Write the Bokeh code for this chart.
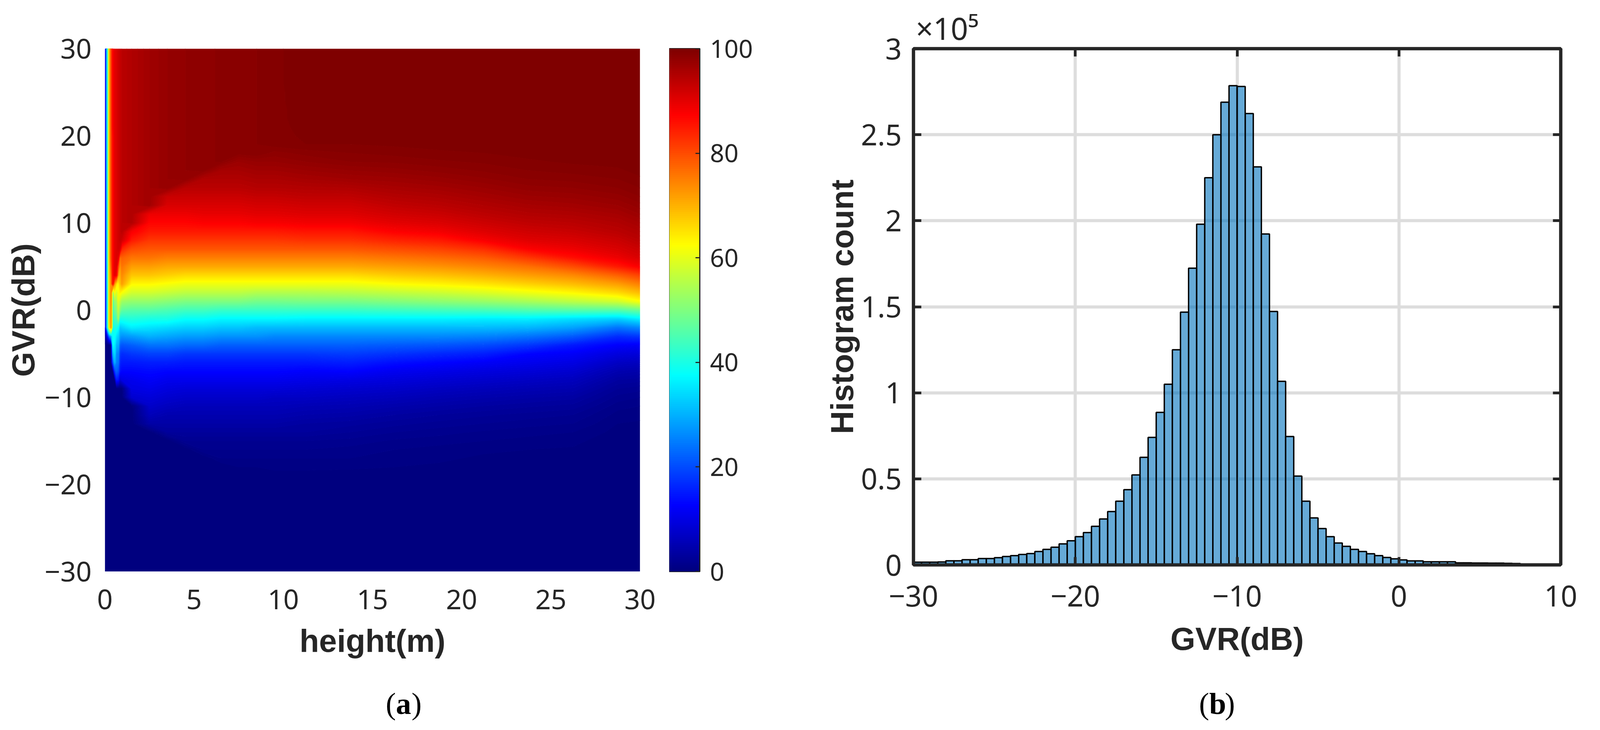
import numpy as np
from bokeh.embed import file_html
from bokeh.layouts import column, row
from bokeh.models import FixedTicker, Label, LinearAxis, LinearColorMapper, Range1d, Title
from bokeh.plotting import figure
from bokeh.resources import INLINE

# ---------- panel (b) histogram ----------
bin_edges = [-30 + 0.5 * i for i in range(76)]
hist_counts = [
    1600, 1600, 1600, 1700, 2400, 2400, 3000, 3000, 3700, 3700,
    4200, 4900, 5400, 6100, 6600, 7800, 9000, 10300, 12200, 14000,
    16400, 18800, 22400, 26700, 31000, 37000, 43700, 52300, 62500, 74100,
    88600, 105000, 125000, 146900, 172400, 198000, 225000, 250000, 268900, 278500,
    278000, 262300, 231300, 192300, 147300, 106700, 74600, 51600, 37000, 27300,
    21100, 16400, 12700, 10800, 9000, 7800, 6500, 5400, 4300, 3500,
    2900, 2300, 2300, 1800, 1800, 1800, 1800, 1200, 1200, 1100,
    1100, 1000, 1000, 900, 800,
]
hist_x_ticks = {-30: "\u221230", -20: "\u221220", -10: "\u221210", 0: "0", 10: "10"}
hist_y_ticks = {0: "0", 50000: "0.5", 100000: "1", 150000: "1.5", 200000: "2", 250000: "2.5", 300000: "3"}

# ---------- panel (a) heat map: values read per height column, GVR rows -30..30 in 1 dB steps ----------
gvr_rows = list(range(-30, 31))
h000 = [0]*27 + [4] + [11]*33
h005 = [0]*27 + [4] + [12]*33
h015 = [0]*27 + [12] + [38, 38, 38, 38, 38, 39, 39, 39] + [40]*25
h025 = [0]*27 + [25] + [64, 66, 66, 66, 66, 66, 67, 67] + [68]*25
h035 = [0]*27 + [30] + [72, 73, 73, 74, 74, 74, 75, 78] + [80]*25
h045 = [0]*24 + [20, 30, 38, 38, 38, 40, 42, 44, 50, 86] + [87]*17 + [88]*10
h055 = [0]*23 + [18, 30, 34, 36, 38, 40, 44, 48, 52, 62, 72, 90] + [90]*26
h065 = [0]*22 + [15, 22, 25, 26, 30, 35, 40, 45, 50, 53, 58, 65, 88] + [91]*26
h075 = [0]*22 + [14, 20, 24, 26, 30, 33, 38, 52, 56, 60, 62, 63, 72, 80, 90] + [92]*24
h085 = [0]*22 + [8, 14, 16, 18, 22, 28, 32, 40, 50, 56, 64, 68, 70, 72, 76, 91] + [93]*23
h095 = [0]*22 + [10, 13, 15, 17, 21, 27, 33, 40, 47, 53, 62, 72, 74, 76, 78, 84, 92] + [94]*22
h15 = [0]*20 + [8, 10, 11, 13, 15, 18, 22, 28, 36, 41, 46, 52, 58, 63, 68, 72, 76, 80, 85, 88] + [95]*21
h25 = [0]*17 + [4, 6, 7.5, 9, 10.5, 12, 13.5, 15.5, 19, 24, 30, 35, 40, 46, 52, 58, 63, 68, 72, 76, 79, 82, 85, 87, 89] + [96.5]*19
h35 = [0]*16 + [3, 4, 5, 6.5, 8, 9.5, 11, 13, 15.5, 19, 24, 29, 34, 40, 45, 51, 57, 62, 67, 71, 75, 79, 82, 85, 87, 89, 91, 92.5] + [97.5]*17
h45 = [0]*15 + [2, 3, 4, 5, 6, 7.5, 9, 11, 13, 15, 18, 23, 28, 33, 38, 44, 50, 56, 61, 66, 71, 75, 79, 82, 85, 87, 89, 91, 92.5, 94] + [98]*16
h55 = [0]*14 + [1.5, 2, 3, 4, 5, 6, 7.5, 9, 11, 13, 15, 18, 23, 28, 33, 38, 44, 50, 56, 61, 66, 71, 75, 79, 82, 85, 87.5, 89.5, 91, 92.5, 94, 95] + [98.3]*15
h65 = [0]*13 + [1, 1.5, 2, 3, 4, 5, 6, 7.5, 9, 11, 13, 15, 18, 22, 27, 32, 37, 43, 50, 56, 61, 66, 71, 75, 79, 82, 85, 87.5, 89.5, 91, 92.5, 94, 95, 96] + [98.6]*14
h75 = [0]*12 + [0.5, 1, 1.5, 2, 3, 4, 5, 6, 7.5, 9, 11, 13, 15, 18, 22, 27, 32, 37, 43, 50, 56, 61, 66, 71, 75, 79, 82, 85, 87.5, 89.5, 91, 92.5, 94, 95, 96, 97] + [98.8]*13
h85 = [0]*12 + [0.5, 1, 1.5, 2, 3, 4, 5, 6, 7.5, 9, 11, 13, 15, 18, 22, 27, 31, 37, 43, 49, 55, 61, 66, 71, 75, 79, 82, 85, 88, 90, 91.5, 93, 94.5, 95.5, 96.5, 97.5] + [99]*13
h95 = [0]*12 + [0.8, 1, 1.5, 2, 3, 4, 5, 6, 7, 9, 11, 13, 15, 18, 22, 26, 31, 37, 43, 49, 55, 61, 66, 71, 75, 79, 82, 85, 88, 90, 91.5, 93, 94.5, 95.5, 96.5, 97.5, 98.3] + [99.3]*12
h1125 = [0]*12 + [0.8, 1, 1.5, 2, 3, 3.5, 4.5, 5.5, 7, 8.5, 10.5, 12.5, 15, 18, 22, 26, 31, 36.5, 43, 49.5, 55, 61, 66, 71, 75, 79, 82.5, 85.5, 88.5, 90.5, 92, 93.5, 94.8, 96, 97, 98, 98.7, 99.5, 99.6, 99.7, 99.8, 99.8, 99.9, 99.9, 100, 100, 100, 100, 100]
h1375 = [0]*12 + [0.7, 1, 1.3, 1.8, 2.5, 3.2, 4.2, 5.2, 6.5, 8, 10, 12.8, 15.5, 18.5, 22, 26, 31, 36.5, 43, 49.5, 55.5, 61, 66, 71, 75, 79, 82.5, 85.5, 88.5, 90.5, 92, 93.5, 95, 96.5, 97.5, 98.5, 99, 99.5, 99.7, 99.8, 99.8, 99.9, 99.9, 100, 100, 100, 100, 100, 100]
h1625 = [0]*12 + [0.5, 0.7, 1, 1.4, 2, 2.7, 3.5, 4.6, 6, 7.5, 9.3, 11.3, 14, 17.5, 21.5, 26, 31, 36.5, 43.5, 50.5, 56.5, 62.5, 67.5, 72, 76, 80, 84, 87.5, 90, 91.8, 93.3, 94.6, 95.8, 96.8, 97.8, 98.6, 99.2, 99.6, 99.8] + [100]*10
h1875 = [0]*12 + [0.4, 0.6, 0.8, 1.2, 1.7, 2.3, 3, 4, 5.2, 6.7, 8.4, 10.5, 13, 16.5, 21, 26, 31, 36.5, 44, 51.5, 57.5, 63.5, 68.5, 73, 77, 81, 85, 88.5, 90.8, 92.5, 94, 95.2, 96.3, 97.3, 98.2, 98.9, 99.4, 99.7, 99.9] + [100]*10
h2125 = [0]*12 + [0.2, 0.4, 0.6, 1, 1.4, 2, 2.6, 3.5, 4.6, 6, 7.7, 9.6, 12, 15.5, 20, 25.5, 31, 36, 44.5, 52.5, 59, 65, 70, 74.5, 78.5, 83, 88, 90.5, 92.3, 93.8, 95, 96.1, 97, 97.9, 98.6, 99.1, 99.5, 99.8, 99.9] + [100]*10
h2375 = [0]*12 + [0.1, 0.3, 0.5, 0.8, 1.2, 1.7, 2.3, 3.1, 4.1, 5.4, 7, 8.9, 11, 13, 18, 24, 30.5, 36, 45.5, 54, 61, 67, 72, 76.5, 82, 87.5, 90.3, 92, 93.5, 94.8, 95.9, 96.9, 97.8, 98.5, 99, 99.4, 99.7, 99.9, 100] + [100]*10
h2625 = [0]*13 + [0.2, 0.4, 0.7, 1, 1.5, 2, 2.8, 3.7, 4.9, 6.3, 8, 10, 12, 15, 21.5, 28.5, 34.5, 46, 56, 63, 69, 74, 80, 86, 89, 91, 92.7, 94, 95.2, 96.3, 97.2, 98, 98.7, 99.2, 99.6, 99.8, 99.9, 100] + [100]*10
h2875 = [0]*16 + [0.3, 0.5, 0.8, 1.2, 1.8, 2.5, 3.5, 5, 7, 9.5, 12.5, 17, 24, 33, 46, 58, 66, 72, 78, 85, 89, 91, 92.5, 94, 95, 96, 97, 97.8, 98.5, 99, 99.4, 99.7, 100, 100, 100, 100, 100, 100, 100, 100, 100, 100, 100, 100, 100]
h3000 = [0]*16 + [0.2, 0.4, 0.7, 1, 1.5, 2.2, 3.2, 4.5, 6.5, 9, 12, 18, 26, 36, 48, 62, 69, 75, 81, 88, 91, 92.5, 94, 95, 96, 97, 97.8, 98.5, 99, 99.4, 99.7, 99.9, 100, 100, 100, 100, 100, 100, 100, 100, 100, 100, 100, 100, 100]

heights = [0, 0.05, 0.15, 0.25, 0.35, 0.45, 0.55, 0.65, 0.75, 0.85, 0.95,
           1.5, 2.5, 3.5, 4.5, 5.5, 6.5, 7.5, 8.5, 9.5,
           11.25, 13.75, 16.25, 18.75, 21.25, 23.75, 26.25, 28.75, 30]
columns = [h000, h005, h015, h025, h035, h045, h055, h065, h075, h085, h095,
           h15, h25, h35, h45, h55, h65, h75, h85, h95,
           h1125, h1375, h1625, h1875, h2125, h2375, h2625, h2875, h3000]

cbar_ticks = [0, 20, 40, 60, 80, 100]
heat_x_ticks = [0, 5, 10, 15, 20, 25, 30]
heat_y_ticks = {-30: "\u221230", -20: "\u221220", -10: "\u221210", 0: "0", 10: "10", 20: "20", 30: "30"}

# ---------- styling ----------
INK = "#262626"
TICK_FONT = "Noto Sans"
LABEL_FONT = "Liberation Sans"
CAP_FONT = "Liberation Serif"
PAGE_W = 4082
TOP = 124

stops = np.array([0, 0.125, 0.375, 0.625, 0.875, 1.0])
def jet_colors(n):
    t = np.linspace(0, 1, n)
    r = np.interp(t, stops, [0, 0, 0, 255, 255, 127])
    g = np.interp(t, stops, [0, 0, 255, 255, 0, 0])
    b = np.interp(t, stops, [127, 255, 255, 0, 0, 0])
    return ["#%02x%02x%02x" % (int(a), int(c), int(d)) for a, c, d in zip(r, g, b)]
mapper = LinearColorMapper(palette=jet_colors(256), low=0, high=100)

for i, c in enumerate(columns):
    assert len(c) == len(gvr_rows), (i, len(c))


def strip(height):
    s = figure(width=None, height=None, frame_width=PAGE_W, frame_height=height, x_range=Range1d(0, PAGE_W), y_range=Range1d(0, height),
               x_axis_type=None, y_axis_type=None, output_backend="svg", toolbar_location=None,
               min_border=0, min_border_left=0, min_border_right=0, min_border_top=0, min_border_bottom=0)
    s.grid.visible = False
    s.outline_line_color = None
    return s


def style_main_axis(ax, tick_size):
    ax.major_label_text_font = TICK_FONT
    ax.major_label_text_font_size = tick_size
    ax.major_label_text_color = INK
    ax.axis_label_text_font = LABEL_FONT
    ax.axis_label_text_font_style = "bold"
    ax.axis_label_text_font_size = "82px"
    ax.axis_label_text_color = INK


# ---------- panel (a) ----------
pa = figure(width=None, height=None, frame_width=1370, frame_height=1338,
            min_border_left=268, min_border_top=TOP, min_border_right=75, min_border_bottom=230,
            x_range=Range1d(0, 30), y_range=Range1d(-30, 30),
            output_backend="svg", toolbar_location=None, x_axis_label="height(m)", y_axis_label="GVR(dB)")
z = np.array(columns, dtype=float).T
levels = np.linspace(-0.001, 100.001, 201)
pa.contour(heights, gvr_rows, z, levels, fill_color=jet_colors(200), line_color=jet_colors(201), line_width=1.5)
pa.grid.visible = False
pa.outline_line_color = None
pa.xaxis.ticker = FixedTicker(ticks=heat_x_ticks)
pa.yaxis.ticker = FixedTicker(ticks=list(heat_y_ticks))
pa.yaxis.major_label_overrides = heat_y_ticks
for ax in (pa.xaxis[0], pa.yaxis[0]):
    ax.axis_line_color = None
    ax.major_tick_line_color = None
    ax.minor_tick_line_color = None
    style_main_axis(ax, "70px")
pa.xaxis.major_label_standoff = 40
pa.yaxis.major_label_standoff = 28
pa.xaxis.axis_label_standoff = 32
pa.yaxis.axis_label_standoff = 6
pa.yaxis.major_label_orientation = "horizontal"

# ---------- colour bar ----------
cbar_levels = np.linspace(0, 100, 256).reshape(-1, 1)
cb = figure(width=None, height=None, frame_width=78, frame_height=1338, min_border_left=0, min_border_top=TOP,
            min_border_right=301, min_border_bottom=230, x_range=Range1d(0, 1), y_range=Range1d(0, 100),
            x_axis_type=None, y_axis_location="right", output_backend="svg", toolbar_location=None)
cb.image(image=[cbar_levels], x=0, y=0, dw=1, dh=100, color_mapper=mapper)
cb.grid.visible = False
cb.outline_line_color = INK
cb.outline_line_width = 3
cb.yaxis.ticker = FixedTicker(ticks=cbar_ticks)
cb.yaxis.major_tick_in = 11
cb.yaxis.major_tick_out = 0
cb.yaxis.major_tick_line_color = INK
cb.yaxis.major_tick_line_width = 3
cb.yaxis.minor_tick_line_color = None
cb.yaxis.axis_line_color = INK
cb.yaxis.axis_line_width = 3
cb.yaxis.major_label_standoff = 26
cb.yaxis.major_label_orientation = "horizontal"
cb.yaxis.major_label_text_font = TICK_FONT
cb.yaxis.major_label_text_font_size = "64px"
cb.yaxis.major_label_text_color = INK

# ---------- panel (b) ----------
pb = figure(width=None, height=None, frame_width=1657, frame_height=1321,
            min_border_left=246, min_border_top=TOP, min_border_right=87, min_border_bottom=247,
            x_range=Range1d(-30, 10), y_range=Range1d(0, 300000),
            output_backend="svg", toolbar_location=None, x_axis_label="GVR(dB)", y_axis_label="Histogram count")
pb.quad(left=bin_edges[:-1], right=bin_edges[1:], bottom=0, top=hist_counts,
        fill_color="#0072bd", fill_alpha=0.6, line_color="black", line_width=3.5)
pb.add_layout(LinearAxis(), "above")
pb.add_layout(LinearAxis(), "right")
pb.title = Title(text="\u00d710\u2075", align="left", offset=6, standoff=0, text_font=TICK_FONT,
                 text_font_size="78px", text_font_style="normal", text_color=INK)
pb.xgrid.ticker = FixedTicker(ticks=[-20, -10, 0])
pb.ygrid.ticker = FixedTicker(ticks=[k for k in hist_y_ticks if 0 < k < 300000])
pb.grid.grid_line_color = "#dddddd"
pb.grid.grid_line_width = 8
pb.outline_line_color = INK
pb.outline_line_width = 8
for ax in pb.xaxis + pb.yaxis:
    ax.axis_line_color = INK
    ax.axis_line_width = 8
    ax.major_tick_line_color = INK
    ax.major_tick_line_width = 7
    ax.major_tick_in = 20
    ax.major_tick_out = 0
    ax.minor_tick_line_color = None
for ax in pb.xaxis:
    ax.ticker = FixedTicker(ticks=list(hist_x_ticks))
for ax in pb.yaxis:
    ax.ticker = FixedTicker(ticks=list(hist_y_ticks))
for ax in (pb.above[0], pb.right[0]):
    ax.major_label_text_font_size = "0px"
    ax.major_label_text_color = None
    ax.major_label_standoff = 0
main_x, main_y = pb.below[0], pb.left[0]
main_x.major_label_overrides = hist_x_ticks
main_y.major_label_overrides = hist_y_ticks
for ax in (main_x, main_y):
    style_main_axis(ax, "74px")
main_x.major_label_standoff = 52
main_y.major_label_standoff = 30
main_x.axis_label_standoff = 34
main_y.axis_label_standoff = 0
main_y.major_label_orientation = "horizontal"

# ---------- bottom strip: sub-figure captions ----------
bottom = strip(158)
for x0, letter in ((987, "a"), (3069, "b")):
    for dx, txt, style in ((0, "(", "normal"), (26, letter, "bold"), (66, ")", "normal")):
        bottom.add_layout(Label(x=x0 + dx, y=7, x_units="screen", y_units="screen", text=txt,
                                text_font=CAP_FONT, text_font_style=style, text_font_size="78px", text_color="black"))

open("out.html", "w").write(file_html(column(row(pa, cb, pb, spacing=0), bottom, spacing=0), INLINE))
